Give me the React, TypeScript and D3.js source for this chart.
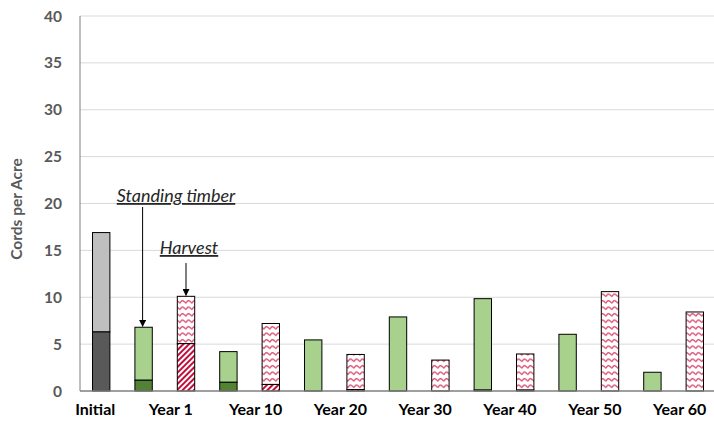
import React from "react";
import * as d3 from "d3";

const periods = ["Initial", "Year 1", "Year 10", "Year 20", "Year 30", "Year 40", "Year 50", "Year 60"];
const barKinds = ["initial", "standing", "harvest", "standing", "harvest", "standing", "harvest", "standing", "harvest", "standing", "harvest", "standing", "harvest", "standing", "harvest"];
const lowerValues = [6.3, 1.15, 5.05, 0.93, 0.7, 0, 0.15, 0, 0, 0.1, 0.1, 0, 0, 0, 0];
const totalValues = [16.9, 6.8, 10.1, 4.2, 7.2, 5.45, 3.9, 7.9, 3.3, 9.85, 3.95, 6.05, 10.6, 2.0, 8.43];
const yTicks = [0, 5, 10, 15, 20, 25, 30, 35, 40];

const W = 714, H = 426;
const font = "Lato, 'Open Sans', sans-serif";

export default function App() {
  const y = d3.scaleLinear().domain([0, 40]).range([391, 16]);
  const x = d3.scaleBand<number>().domain(barKinds.map((_, i) => i)).range([80, 716]).padding(0);
  const bw = x.step() * 0.41;
  const cx = (i: number) => (x(i) as number) + x.bandwidth() / 2;

  const fills: Record<string, [string, string]> = {
    initial: ["#595959", "#bfbfbf"],
    standing: ["#548235", "#a9d18e"],
    harvest: ["url(#stripes)", "url(#waves)"],
  };

  const labelX = (p: number) => (p === 0 ? cx(0) - 6 : (cx(2 * p - 1) + cx(2 * p)) / 2 + 6);

  return (
    <svg width={W} height={H} style={{ position: "absolute", left: 0, top: 0, background: "#fff" }}>
      <defs>
        <pattern id="stripes" patternUnits="userSpaceOnUse" width="4" height="4" patternTransform="rotate(45)">
          <rect width="4" height="4" fill="#fff" />
          <rect width="2" height="4" fill="#c00f3c" />
        </pattern>
        <pattern id="waves" patternUnits="userSpaceOnUse" width="6" height="6.5">
          <rect width="6" height="6.5" fill="#fff" />
          <path d="M0 4.2 Q1.5 1.2 3 1.8 Q4.5 2.6 6 4.2" fill="none" stroke="#d9476e" strokeWidth="1.3" />
        </pattern>
        <marker id="arrow" viewBox="0 0 10 10" refX="9" refY="5" markerWidth="7" markerHeight="7" orient="auto">
          <path d="M0 0 L10 5 L0 10 z" fill="#000" />
        </marker>
      </defs>
      {yTicks.filter((t) => t > 0).map((t) => (
        <line key={t} x1={80} x2={716} y1={y(t)} y2={y(t)} stroke="#d9d9d9" strokeWidth={1} />
      ))}
      {yTicks.map((t) => (
        <text key={t} x={62} y={y(t) + 5.5} textAnchor="end" fontFamily={font} fontWeight="bold" fontSize={15.5} fill="#595959">
          {t}
        </text>
      ))}
      <text transform={`translate(22,209) rotate(-90)`} textAnchor="middle" fontFamily={font} fontWeight="bold" fontSize={15.5} fill="#595959">
        Cords per Acre
      </text>
      {barKinds.map((k, i) => {
        const [lo, hi] = fills[k];
        const x0 = cx(i) - bw / 2;
        return (
          <g key={i}>
            <rect x={x0} y={y(totalValues[i])} width={bw} height={y(lowerValues[i]) - y(totalValues[i])} fill={hi} stroke="#000" strokeWidth={1} />
            {lowerValues[i] > 0 && (
              <rect x={x0} y={y(lowerValues[i])} width={bw} height={y(0) - y(lowerValues[i])} fill={lo} stroke="#000" strokeWidth={1} />
            )}
          </g>
        );
      })}
      <line x1={80} x2={80} y1={16} y2={391} stroke="#7f7f7f" strokeWidth={1} />
      <line x1={80} x2={716} y1={391} y2={391} stroke="#7f7f7f" strokeWidth={1.5} />
      {periods.map((p, i) => (
        <text key={p} x={labelX(i)} y={415} textAnchor="middle" fontFamily={font} fontWeight="bold" fontSize={16} fill="#000">
          {p}
        </text>
      ))}
      <text x={176} y={202} textAnchor="middle" fontFamily={font} fontStyle="italic" fontSize={18} fill="#262626" textDecoration="underline">
        Standing timber
      </text>
      <line x1={cx(1) - 1} x2={cx(1) - 1} y1={207} y2={y(totalValues[1]) - 1} stroke="#000" strokeWidth={1} markerEnd="url(#arrow)" />
      <text x={189} y={254} textAnchor="middle" fontFamily={font} fontStyle="italic" fontSize={18} fill="#262626" textDecoration="underline">
        Harvest
      </text>
      <line x1={cx(2)} x2={cx(2)} y1={263} y2={y(totalValues[2]) - 1} stroke="#000" strokeWidth={1} markerEnd="url(#arrow)" />
    </svg>
  );
}
